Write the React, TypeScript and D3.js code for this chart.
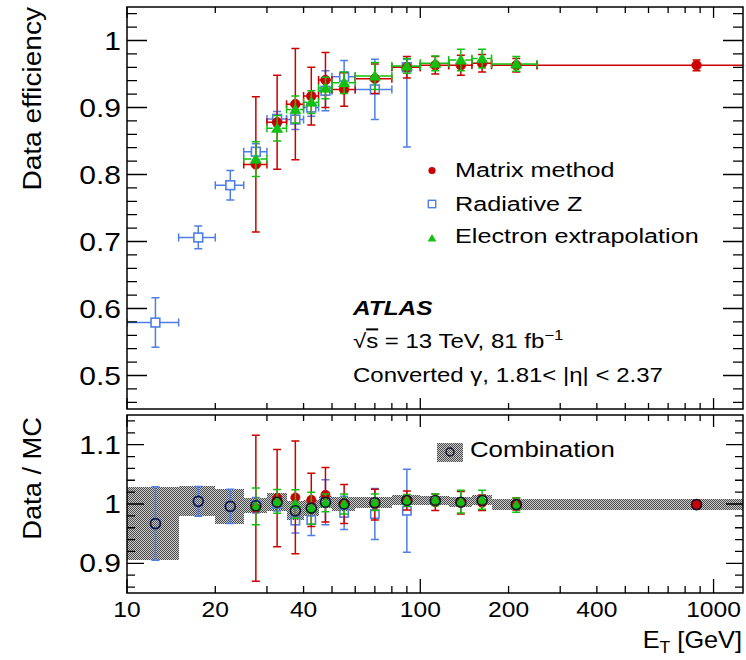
import React from 'react';
import * as d3 from 'd3';

// ---------------- data ----------------
const binLo = [10, 15, 20, 25, 30, 35, 40, 45, 50, 60, 80, 100, 125, 150, 175, 250];
const binHi = [15, 20, 25, 30, 35, 40, 45, 50, 60, 80, 100, 125, 150, 175, 250, 1500];
const binCenter = [12.5, 17.5, 22.5, 27.5, 32.5, 37.5, 42.5, 47.5, 55, 70, 90, 112.5, 137.5, 162.5, 212.5, 875];

const N = null;
const matrixEff = [N, N, N, 0.815, 0.878, 0.905, 0.917, 0.941, 0.927, 0.943, 0.960, 0.963, 0.963, 0.966, 0.963, 0.963];
const matrixErr = [N, N, N, 0.101, 0.07, 0.083, 0.043, 0.041, 0.025, 0.022, 0.016, 0.013, 0.015, 0.013, 0.01, 0.008];

const radZEff = [0.579, 0.706, 0.784, 0.834, 0.883, 0.882, 0.900, 0.925, 0.946, 0.927, 0.960, N, N, N, N, N];
const radZErrLo = [0.037, 0.017, 0.022, 0.012, 0.011, 0.015, 0.013, 0.03, 0.024, 0.045, 0.119, N, N, N, N, N];
const radZErrHi = [0.037, 0.017, 0.022, 0.012, 0.011, 0.015, 0.013, 0.03, 0.024, 0.045, 0.012, N, N, N, N, N];

const elecEff = [N, N, N, 0.823, 0.869, 0.897, 0.908, 0.929, 0.937, 0.947, 0.962, 0.966, 0.971, 0.973, 0.965, N];
const elecErr = [N, N, N, 0.026, 0.019, 0.02, 0.017, 0.016, 0.016, 0.02, 0.011, 0.011, 0.016, 0.014, 0.011, N];

const matrixRatio = [N, N, N, 0.993, 1.010, 1.011, 1.007, 1.0155, 1.0, 0.999, 1.006, 1.003, 1.002, 1.002, 1.0, 0.999];
const matrixRatioErr = [N, N, N, 0.123, 0.082, 0.095, 0.045, 0.046, 0.033, 0.026, 0.016, 0.014, 0.019, 0.013, 0.01, 0.007];

const radZRatio = [0.967, 1.0045, 0.996, 0.998, 1.0, 0.972, 0.973, 1.003, 0.985, 0.983, 0.9885, N, N, N, N, N];
const radZRatioErr = [0.062, 0.025, 0.029, 0.013, 0.012, 0.021, 0.026, 0.038, 0.028, 0.043, 0.07, N, N, N, N, N];

const elecRatio = [N, N, N, 0.996, 1.0045, 1.0, 0.993, 1.002, 1.0, 1.003, 1.006, 1.007, 1.004, 1.007, 0.998, N];
const elecRatioErr = [N, N, N, 0.031, 0.02, 0.024, 0.027, 0.015, 0.017, 0.014, 0.01, 0.01, 0.019, 0.016, 0.012, N];

const comboRatio = [0.967, 1.0045, 0.996, 0.997, 1.003, 0.9885, 0.993, 1.003, 1.0, 1.002, 1.006, 1.006, 1.003, 1.006, 0.999, 0.999];
const comboErr = [0.062, 0.025, 0.029, 0.013, 0.015, 0.016, 0.013, 0.010, 0.011, 0.0095, 0.0085, 0.008, 0.0085, 0.0085, 0.0093, 0.0093];

const xTickLabels = [10, 20, 40, 100, 200, 400, 1000];
const xMajor = [10, 100, 1000];
const xMinor = [20, 30, 40, 50, 60, 70, 80, 90, 200, 300, 400, 500, 600, 700, 800, 900];
const yTopLabels = [0.5, 0.6, 0.7, 0.8, 0.9, 1];
const yBotLabels = [0.9, 1, 1.1];

const legendEntries = ['Matrix method', 'Radiative Z', 'Electron extrapolation'];

// ---------------- layout ----------------
const W = 746, H = 660;
const L = 127, R = 743;
const T1 = 7, B1 = 409, T2 = 415, B2 = 593;
const FONT = '"Liberation Sans", Arial, Helvetica, sans-serif';
const SX = 1.2;

const RED = '#cc0000';
const BLUE = '#4f7fe4';
const GREEN = '#12c012';

const x = d3.scaleLog().domain([10, 1260]).range([L, R]);
const yTop = d3.scaleLinear().domain([0.45, 1.05]).range([B1, T1]);
const yBot = d3.scaleLinear().domain([0.85, 1.15]).range([B2, T2]);

function Txt({ x, y, size, anchor = 'start', sx = SX, rot = 0, weight = 'normal', italic = false, children }: any) {
  const tf = `translate(${x},${y})${rot ? ` rotate(${rot})` : ''} scale(${sx},1)`;
  return (
    <text transform={tf} fontSize={size} textAnchor={anchor} fontFamily={FONT}
      fontWeight={weight} fontStyle={italic ? 'italic' : 'normal'} fill="#000">{children}</text>
  );
}

function errPath(cx: number, cy: number, gap: number, top?: number, bot?: number, left?: number, right?: number, cap = 4) {
  let d = '';
  if (top !== undefined && bot !== undefined) {
    if (cy - gap > top) d += `M${cx},${cy - gap}L${cx},${top}`;
    if (cy + gap < bot) d += `M${cx},${cy + gap}L${cx},${bot}`;
    d += `M${cx - cap},${top}L${cx + cap},${top}M${cx - cap},${bot}L${cx + cap},${bot}`;
  }
  if (left !== undefined && right !== undefined) {
    if (cx - gap > left) d += `M${cx - gap},${cy}L${left},${cy}`;
    if (cx + gap < right) d += `M${cx + gap},${cy}L${right},${cy}`;
    d += `M${left},${cy - cap}L${left},${cy + cap}M${right},${cy - cap}L${right},${cy + cap}`;
  }
  return d;
}

function Marker({ kind, cx, cy, s = 1, open = false }: any) {
  if (kind === 'circle') return <circle cx={cx} cy={cy} r={4.8 * s} fill={RED} stroke={RED} strokeWidth={0.8} />;
  if (kind === 'square') {
    const h = 4.4 * s;
    return <rect x={cx - h} y={cy - h} width={2 * h} height={2 * h} fill={open ? 'none' : '#fff'} stroke={BLUE} strokeWidth={1.6} />;
  }
  if (kind === 'tri') {
    const a = 5.6 * s;
    return <path d={`M${cx},${cy - a}L${cx + a},${cy + a * 0.75}L${cx - a},${cy + a * 0.75}Z`} fill={GREEN} stroke={GREEN} strokeWidth={0.6} />;
  }
  return null;
}

function TopSeries({ vals, lo, hi, color, kind }: any) {
  const items: any[] = [];
  vals.forEach((v: number | null, i: number) => {
    if (v === null) return;
    const cx = x(binCenter[i]);
    const cy = yTop(v);
    const d = errPath(cx, cy, 4.5, yTop(v + hi[i]), yTop(v - lo[i]), x(binLo[i]), x(binHi[i]));
    items.push(<path key={'e' + i} d={d} stroke={color} strokeWidth={1.5} fill="none" />);
  });
  vals.forEach((v: number | null, i: number) => {
    if (v === null) return;
    items.push(<Marker key={'m' + i} kind={kind} cx={x(binCenter[i])} cy={yTop(v)} />);
  });
  return <g>{items}</g>;
}

function BotSeries({ vals, err, color, kind }: any) {
  const items: any[] = [];
  vals.forEach((v: number | null, i: number) => {
    if (v === null) return;
    const cx = x(binCenter[i]);
    const cy = yBot(v);
    const d = errPath(cx, cy, 4.5, yBot(v + err[i]), yBot(v - err[i]));
    items.push(<path key={'e' + i} d={d} stroke={color} strokeWidth={1.5} fill="none" />);
  });
  vals.forEach((v: number | null, i: number) => {
    if (v === null) return;
    items.push(<Marker key={'m' + i} kind={kind} cx={x(binCenter[i])} cy={yBot(v)} s={0.95} open />);
  });
  return <g>{items}</g>;
}

function XTicks({ yAxis, dir, major, minor }: any) {
  const d = [
    ...xMajor.map((v) => `M${x(v)},${yAxis}L${x(v)},${yAxis + dir * major}`),
    ...xMinor.map((v) => `M${x(v)},${yAxis}L${x(v)},${yAxis + dir * minor}`),
  ].join('');
  return <path d={d} stroke="#000" strokeWidth={1.3} fill="none" />;
}

function YTicks({ scale, majors, minors, major, minor }: any) {
  const d: string[] = [];
  majors.forEach((v: number) => {
    const yy = scale(v);
    d.push(`M${L},${yy}L${L + major},${yy}M${R},${yy}L${R - major},${yy}`);
  });
  minors.forEach((v: number) => {
    const yy = scale(v);
    d.push(`M${L},${yy}L${L + minor},${yy}M${R},${yy}L${R - minor},${yy}`);
  });
  return <path d={d.join('')} stroke="#000" strokeWidth={1.3} fill="none" />;
}

export default function App() {
  const topMinors = d3.range(23, 53).map((k) => +(k * 0.02).toFixed(2)).filter((v) => Math.abs(v * 10 - Math.round(v * 10)) > 1e-6);
  const botMinors = d3.range(43, 58).map((k) => +(k * 0.02).toFixed(2)).filter((v) => Math.abs(v * 10 - Math.round(v * 10)) > 1e-6);

  return (
    <svg width={W} height={H} viewBox={`0 0 ${W} ${H}`} style={{ display: 'block', position: 'absolute', left: 0, top: 0, background: '#fff' }}>
      <defs>
        <pattern id="hatch" width={2} height={2} patternUnits="userSpaceOnUse">
          <rect width={2} height={2} fill="#cccccc" />
          <rect x={0} y={0} width={1} height={1} fill="#4a4a4a" />
          <rect x={1} y={1} width={1} height={1} fill="#4a4a4a" />
        </pattern>
        <clipPath id="clipTop"><rect x={L} y={T1} width={R - L} height={B1 - T1} /></clipPath>
        <clipPath id="clipBot"><rect x={L} y={T2} width={R - L} height={B2 - T2} /></clipPath>
      </defs>
      <rect x={0} y={0} width={W} height={H} fill="#fff" />

      {/* ---------- top panel ---------- */}
      <g clipPath="url(#clipTop)">
        <TopSeries vals={radZEff} lo={radZErrLo} hi={radZErrHi} color={BLUE} kind="square" />
        <TopSeries vals={matrixEff} lo={matrixErr} hi={matrixErr} color={RED} kind="circle" />
        <TopSeries vals={elecEff} lo={elecErr} hi={elecErr} color={GREEN} kind="tri" />
      </g>
      <rect x={L} y={T1} width={R - L} height={B1 - T1} fill="none" stroke="#000" strokeWidth={1.5} />
      <XTicks yAxis={B1} dir={-1} major={11} minor={6} />
      <XTicks yAxis={T1} dir={1} major={11} minor={6} />
      <YTicks scale={yTop} majors={yTopLabels} minors={topMinors} major={20} minor={10} />
      {yTopLabels.map((v) => (
        <Txt key={v} x={121} y={yTop(v) + 9} size={25} anchor="end">{String(v)}</Txt>
      ))}
      <Txt x={41} y={7} size={26} anchor="end" rot={-90} sx={1.08}>Data efficiency</Txt>

      {/* legend */}
      <circle cx={432} cy={170.5} r={3.6} fill={RED} />
      <rect x={428.3} y={200.3} width={7.4} height={7.4} fill="#fff" stroke={BLUE} strokeWidth={1.4} />
      <path d={`M432,234L436.3,241.5L427.7,241.5Z`} fill={GREEN} />
      <Txt x={455} y={176.5} size={21}>{legendEntries[0]}</Txt>
      <Txt x={455} y={211.2} size={21}>{legendEntries[1]}</Txt>
      <Txt x={455} y={242.8} size={21}>{legendEntries[2]}</Txt>

      {/* ATLAS label */}
      <Txt x={353} y={315} size={20} weight="bold" italic sx={1.22}>ATLAS</Txt>
      <Txt x={353} y={348.3} size={20}>
        √<tspan style={{ textDecoration: 'overline' }}>s</tspan> = 13 TeV, 81 fb<tspan dy={-8} fontSize={14}>−1</tspan>
      </Txt>
      <Txt x={353} y={381.7} size={20}>Converted γ, 1.81&lt; |η| &lt; 2.37</Txt>

      {/* ---------- bottom panel ---------- */}
      <g clipPath="url(#clipBot)">
        {comboRatio.map((v, i) => (
          <rect key={'b' + i} x={x(binLo[i])} width={x(binHi[i]) - x(binLo[i])}
            y={yBot(v + comboErr[i])} height={yBot(v - comboErr[i]) - yBot(v + comboErr[i])}
            fill="url(#hatch)" shapeRendering="crispEdges" />
        ))}
        <BotSeries vals={radZRatio} err={radZRatioErr} color={BLUE} kind="square" />
        <BotSeries vals={matrixRatio} err={matrixRatioErr} color={RED} kind="circle" />
        <BotSeries vals={elecRatio} err={elecRatioErr} color={GREEN} kind="tri" />
        {comboRatio.map((v, i) => (
          <circle key={'c' + i} cx={x(binCenter[i])} cy={yBot(v)} r={5} fill="none" stroke="#161630" strokeWidth={1.6} />
        ))}
      </g>
      <rect x={L} y={T2} width={R - L} height={B2 - T2} fill="none" stroke="#000" strokeWidth={1.5} />
      <XTicks yAxis={B2} dir={-1} major={14} minor={7} />
      <XTicks yAxis={T2} dir={1} major={12} minor={6} />
      <YTicks scale={yBot} majors={yBotLabels} minors={botMinors} major={17} minor={8} />
      {yBotLabels.map((v) => (
        <Txt key={v} x={121} y={yBot(v) + 9} size={25} anchor="end">{String(v)}</Txt>
      ))}
      <Txt x={41} y={417} size={26} anchor="end" rot={-90} sx={1.05}>Data / MC</Txt>

      {/* combination legend */}
      <rect x={437} y={443} width={26} height={19} fill="url(#hatch)" shapeRendering="crispEdges" />
      <circle cx={450} cy={452} r={4} fill="none" stroke="#161630" strokeWidth={1.5} />
      <Txt x={470} y={456.7} size={21.5}>Combination</Txt>

      {/* x axis labels */}
      {xTickLabels.map((v) => (
        <Txt key={v} x={x(v)} y={617} size={22} anchor="middle" sx={1.12}>{String(v)}</Txt>
      ))}
      <Txt x={742} y={648} size={23} anchor="end" sx={1.1}>
        E<tspan dy={5} fontSize={16}>T</tspan><tspan dy={-5}> [GeV]</tspan>
      </Txt>
    </svg>
  );
}
